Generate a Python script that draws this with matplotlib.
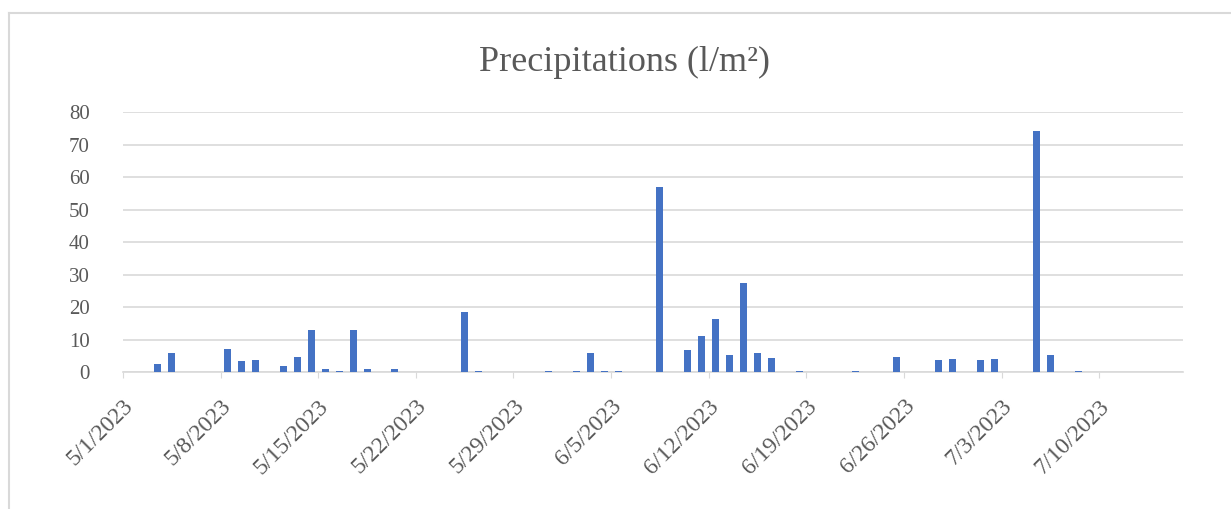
import datetime as dt
import matplotlib
matplotlib.use("Agg")
import matplotlib.pyplot as plt
import matplotlib.dates as mdates
from matplotlib.lines import Line2D

# daily precipitation, days without rain are left out
rain_dates = [
    "2023-05-03", "2023-05-04", "2023-05-08", "2023-05-09", "2023-05-10",
    "2023-05-12", "2023-05-13", "2023-05-14", "2023-05-15", "2023-05-16",
    "2023-05-17", "2023-05-18", "2023-05-20", "2023-05-25", "2023-05-26",
    "2023-05-31", "2023-06-02", "2023-06-03", "2023-06-04", "2023-06-05",
    "2023-06-08", "2023-06-10", "2023-06-11", "2023-06-12", "2023-06-13",
    "2023-06-14", "2023-06-15", "2023-06-16", "2023-06-18", "2023-06-22",
    "2023-06-25", "2023-06-28", "2023-06-29", "2023-07-01", "2023-07-02",
    "2023-07-05", "2023-07-06", "2023-07-08",
]
rain_mm = [
    2.5, 6.0, 7.2, 3.3, 3.8,
    1.9, 4.7, 13.0, 1.0, 0.3,
    13.0, 1.0, 1.0, 18.5, 0.3,
    0.3, 0.3, 6.0, 0.3, 0.3,
    57.0, 6.8, 11.2, 16.4, 5.2,
    27.5, 6.0, 4.2, 0.3, 0.3,
    4.5, 3.8, 4.0, 3.8, 4.0,
    74.2, 5.3, 0.3,
]
start = dt.date(2023, 5, 1)
end = dt.date(2023, 7, 16)
tick_dates = [start + dt.timedelta(days=7 * i) for i in range(11)]

grey = "#595959"
serif = ["Liberation Serif", "DejaVu Serif"]

fig = plt.figure(figsize=(12.31, 5.09), dpi=100)
ax = fig.add_axes([0.0999, 0.2692, 0.8610, 0.5102])

days = [dt.date.fromisoformat(d) for d in rain_dates]
# bars sit in the middle of their day
centers = [mdates.date2num(d) + 0.5 for d in days]
ax.bar(centers, rain_mm, width=0.5, color="#4472C4", zorder=3)

ax.set_xlim(mdates.date2num(start), mdates.date2num(end))
ax.set_ylim(0, 80)
ax.set_yticks(range(0, 81, 10))
ax.yaxis.grid(True, color="#d9d9d9", linewidth=1.2, zorder=0)
ax.set_xticks([mdates.date2num(d) for d in tick_dates])
ax.set_xticklabels([f"{d.month}/{d.day}/{d.year}" for d in tick_dates],
                   rotation=45, ha="right", rotation_mode="anchor",
                   fontsize=17, color=grey, family=serif)
for lab in ax.get_yticklabels():
    lab.set_family(serif)
ax.tick_params(axis="y", length=0, pad=24, labelsize=15, labelcolor=grey)
ax.tick_params(axis="x", length=4, color="#d9d9d9", pad=13)

for side in ("top", "right", "left"):
    ax.spines[side].set_visible(False)
ax.spines["bottom"].set_color("#d9d9d9")
ax.spines["bottom"].set_linewidth(1.2)

fig.text(0.507, 0.878, "Precipitations (l/m²)", ha="center", va="center",
         fontsize=26, color=grey, family=serif)

# thin frame along the top and left edges
fig.add_artist(Line2D([9 / 1231, 1], [1 - 13 / 509] * 2, color="#d9d9d9",
                      linewidth=1.5, transform=fig.transFigure))
fig.add_artist(Line2D([9 / 1231] * 2, [0, 1 - 13 / 509], color="#d9d9d9",
                      linewidth=1.5, transform=fig.transFigure))

fig.savefig("out.png", dpi=100)
